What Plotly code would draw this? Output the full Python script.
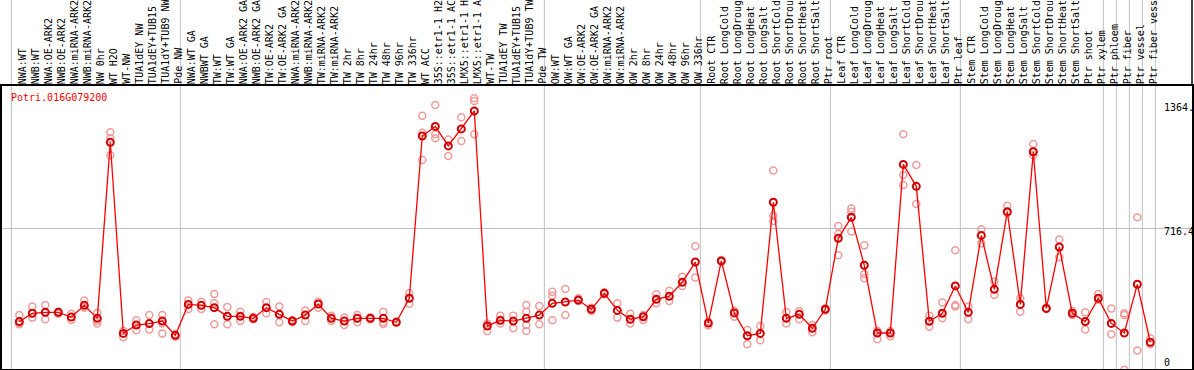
import plotly.graph_objects as go

labels = ["NWA:WT", "NWB:WT", "NWA:OE-ARK2", "NWB:OE-ARK2", "NWA:miRNA-ARK2", "NWB:miRNA-ARK2",
          "NW 0hr", "WT H2O", "WT-NW", "TUA1dEY NW", "TUA1dEY+TUB15", "TUA1dY+TUB9 NW", "Pde NW",
          "NWA:WT GA", "NWBWT GA", "TW:WT", "TW:WT GA", "NWA:OE-ARK2 GA", "NWB:OE-ARK2 GA",
          "TW:OE-ARK2", "TW:OE-ARK2 GA", "NWA:miRNA-ARK2", "NWB:miRNA-ARK2", "TW:miRNA-ARK2",
          "TW:miRNA-ARK2", "TW 2hr", "TW 8hr", "TW 24hr", "TW 48hr", "TW 96hr", "TW 336hr",
          "WT ACC", "35S::etr1-1 H2", "35S::etr1-1 AC", "LMX5::etr1-1 H", "LMX5::etr1-1 A",
          "WT-TW", "TUA1dEY TW", "TUA1dEY+TUB15", "TUA1dY+TUB9 TW", "Pde TW",
          "OW:WT", "OW:WT GA", "OW:OE-ARK2", "OW:OE-ARK2 GA", "OW:miRNA-ARK2", "OW:miRNA-ARK2",
          "OW 2hr", "OW 8hr", "OW 24hr", "OW 48hr", "OW 96hr", "OW 336hr",
          "Root CTR", "Root LongCold", "Root LongDroug", "Root LongHeat", "Root LongSalt",
          "Root ShortCold", "Root ShortDrou", "Root ShortHeat", "Root ShortSalt", "Ptr root",
          "Leaf CTR", "Leaf LongCold", "Leaf LongDroug", "Leaf LongHeat", "Leaf LongSalt",
          "Leaf ShortCold", "Leaf ShortDrou", "Leaf ShortHeat", "Leaf ShortSalt", "Ptr leaf",
          "Stem CTR", "Stem LongCold", "Stem LongDroug", "Stem LongHeat", "Stem LongSalt",
          "Stem ShortCold", "Stem ShortDrou", "Stem ShortHeat", "Stem ShortSalt", "Ptr shoot",
          "Ptr xylem", "Ptr phloem", "Ptr fiber", "Ptr vessel", "Ptr fiber vess"]

means = [201, 247, 252, 252, 226, 291, 219, 1191, 136, 182, 190, 204, 125,
         296, 291, 278, 230, 230, 219, 278, 241, 204, 237, 298, 219, 204, 219, 219, 219, 197, 330,
         1226, 1279, 1171, 1265, 1364, 177, 208, 204, 219, 237,
         302, 309, 320, 269, 357, 263, 214, 228, 324, 341, 418, 530,
         193, 536, 249, 123, 136, 860, 219, 241, 164, 269,
         661, 777, 512, 138, 138, 1069, 948, 203, 247, 398,
         252, 677, 379, 808, 296, 1139, 274, 613, 247, 201,
         330, 191, 138, 407, 87]

replicates = [[237, 186, 191], [284, 223], [293, 214], [256, 245], [245, 210], [318, 278],
              [249, 191, 204], [1246, 1119, 1213], [114, 151], [208, 153], [237, 158],
              [237, 136, 191], [118, 131], [318, 271], [311, 271], [353, 186, 302], [282, 186],
              [256, 204], [228, 214], [309, 247], [284, 197], [210, 197], [263, 204], [311, 278],
              [234, 204], [223, 182], [237, 197], [223, 214], [256, 188, 197], [201], [357, 300],
              [1338, 1093, 1244], [1397, 1235, 1213], [1207, 1115], [1329, 1198],
              [1434, 1419, 1235], [149, 190], [234, 190], [234, 164], [293, 256, 182, 149],
              [287, 186], [366, 344, 208], [381, 237], [330, 315], [278, 260], [363, 352],
              [302, 223], [245, 190], [210, 237], [352, 302], [372, 315], [449, 398], [617, 445],
              [179, 201], [541, 532], [261, 228], [155, 76], [177, 98], [1036, 786, 757],
              [254, 190], [260, 214], [182, 142], [274, 263], [729, 685, 567], [826, 808, 698],
              [622, 464, 440], [151, 103], [149, 120], [1235, 1011, 955], [1066, 850], [234, 173],
              [307, 219], [595, 293, 284], [285, 214], [711, 633], [422, 348], [841, 799],
              [330, 256], [1182, 1121], [278, 271], [655, 556], [260, 237], [252, 158], [353, 320],
              [274, 131], [247, 237, -65], [777, 42], [109, 76]]

# group boundaries (after these category indices)
group_ends = [-1, 12, 40, 52, 62, 72, 83, 84, 85, 86, 87]

gene_name = "Potri.016G079200"
y_tick_vals = [1364, 716.4, 0]
y_tick_text = ["1364.", "716.4", "0"]
y_tick_shift = [3, -3, -4]

W, H = 1194, 370
ML, MR, MT, MB = 2, 2, 86, 1
FONT = "DejaVu Sans Mono"

xs = list(range(len(labels)))
rep_x, rep_y = [], []
for i, reps in enumerate(replicates):
    for v in reps:
        rep_x.append(i)
        rep_y.append(v)

fig = go.Figure()
fig.add_trace(go.Scatter(x=rep_x, y=rep_y, mode="markers",
                         marker=dict(symbol="circle-open", size=7, color="#f09c9c",
                                     line=dict(width=1.5, color="#f09c9c")),
                         hoverinfo="skip", showlegend=False))
fig.add_trace(go.Scatter(x=xs, y=means, mode="lines+markers",
                         line=dict(color="#ff0000", width=1.3),
                         marker=dict(symbol="circle-open", size=7, color="#d00000",
                                     line=dict(width=2, color="#d00000")),
                         showlegend=False))

x0 = -1.331
x1 = x0 + (W - ML - MR) / 13.0
plot_h = H - MT - MB
top_paper = 1 + MT / plot_h

shapes = []
for g in group_ends:
    xv = g + 0.5 - 0.11
    shapes.append(dict(type="line", xref="x", yref="paper", x0=xv, x1=xv, y0=0, y1=top_paper,
                       line=dict(color="#c0c0c0", width=1), layer="below"))
shapes.append(dict(type="line", xref="paper", yref="paper", x0=1, x1=1, y0=1, y1=top_paper,
                   line=dict(color="black", width=1.5)))

annotations = []
for i, lab in enumerate(labels):
    annotations.append(dict(x=i, y=1, xref="x", yref="paper", text=lab, showarrow=False,
                            textangle=-90, xanchor="center", yanchor="bottom", yshift=0, xshift=3,
                            font=dict(family=FONT, size=10, color="black")))
annotations.append(dict(x=7 / (W - ML - MR), y=1, xref="paper", yref="paper", text=gene_name,
                        showarrow=False, xanchor="left", yanchor="top", yshift=-4,
                        font=dict(family=FONT, size=10, color="#ff0000")))
for v, t, s in zip(y_tick_vals, y_tick_text, y_tick_shift):
    annotations.append(dict(x=(1162 - ML) / (W - ML - MR), y=v, xref="paper", yref="y", text=t,
                            showarrow=False, xanchor="left", yanchor="middle", yshift=s,
                            font=dict(family=FONT, size=10, color="black")))

fig.update_layout(
    width=W, height=H,
    margin=dict(l=ML, r=MR, t=MT, b=MB, pad=0),
    paper_bgcolor="white", plot_bgcolor="white",
    shapes=shapes, annotations=annotations,
    xaxis=dict(range=[x0, x1], showgrid=False, zeroline=False, showticklabels=False,
               ticks="", showline=True, mirror=True, linecolor="black", linewidth=1.5),
    yaxis=dict(range=[-60.7, 1502], tickvals=[716.4], showgrid=True, gridcolor="#c0c0c0",
               gridwidth=1, zeroline=False, showticklabels=False, ticks="",
               showline=True, mirror=True, linecolor="black", linewidth=1.5),
)

fig.write_html("out.html", config={"displayModeBar": False},
               post_script="document.body.style.margin='0';document.body.style.overflow='hidden';")
